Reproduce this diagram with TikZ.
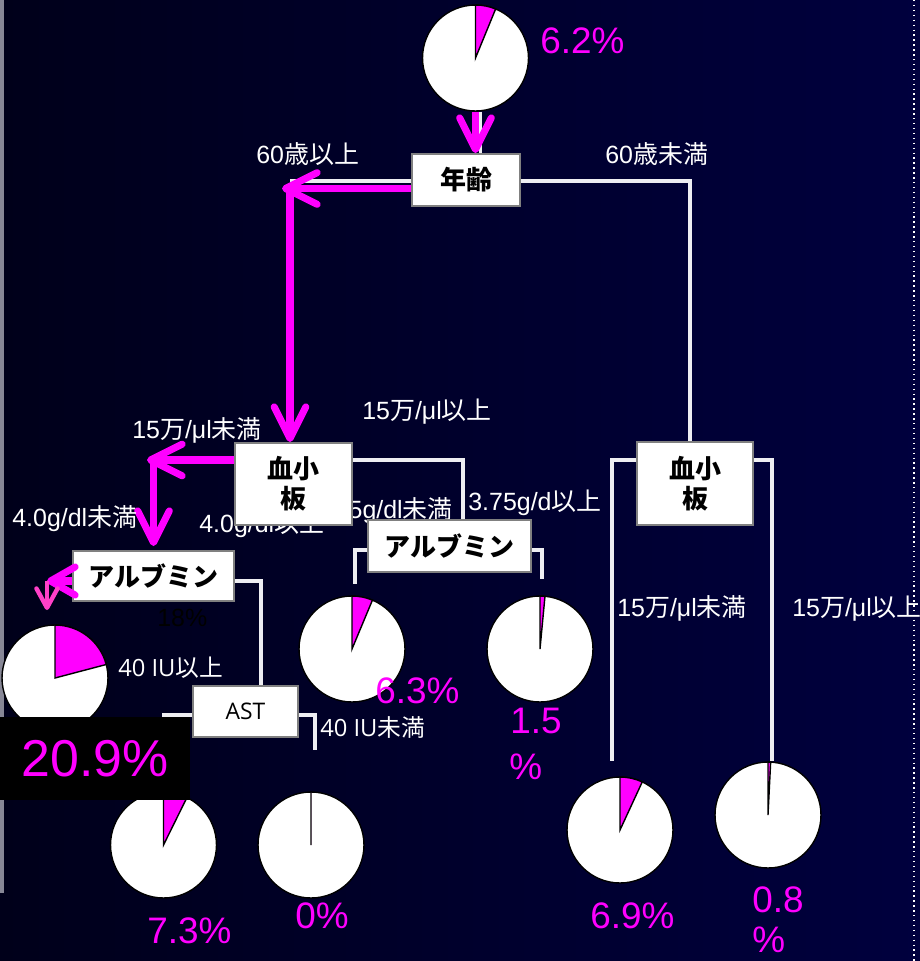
\documentclass[tikz,border=0pt]{standalone}
\usepackage{fontspec}
\setmainfont{Liberation Sans}
\newfontfamily\cjk{Noto Sans CJK JP}
\newfontfamily\seg{Open Sans}
\usetikzlibrary{arrows.meta}
\definecolor{mag}{RGB}{255,0,255}
\definecolor{pinkm}{RGB}{255,64,200}
\definecolor{wirecol}{RGB}{238,238,242}
\definecolor{boxline}{RGB}{128,128,128}
\definecolor{sidebar}{RGB}{135,135,150}
\definecolor{bgleft}{RGB}{0,0,26}
\definecolor{bgright}{RGB}{0,0,62}
\newcommand{\jp}[1]{{\cjk #1}}
\newcommand{\slice}[2]{\filldraw[fill=mag, draw=black, line width=0.8pt] (#1.center) -- ++(90:1.06cm) arc[start angle=90, end angle={90-3.6*#2}, radius=1.06cm] -- cycle;}

\begin{document}
\begin{tikzpicture}[
        x=0.02cm, y=0.02cm,
        box/.style={
            rectangle,
            draw=boxline,
            fill=white,
            line width=1.1pt,
            inner sep=0pt,
            align=center,
            font=\cjk\bfseries\fontsize{14.8}{17}\selectfont
        },
        pie/.style={circle, draw=black, fill=white, line width=0.8pt, minimum size=2.12cm, inner sep=0pt},
        lbl/.style={text=white, inner sep=0pt, anchor=base west, font=\fontsize{14.2}{16}\selectfont},
        iu/.style={lbl, font=\seg\fontsize{13.5}{16}\selectfont},
        pct/.style={text=mag, inner sep=0pt, anchor=base west, font=\fontsize{21}{24}\selectfont},
        wire/.style={draw=wirecol, line width=1.8pt},
        arrow/.style={-{Straight Barb[length=18pt, width=18pt, round]}, draw=mag, line width=4pt},
        smallarrow/.style={-{Straight Barb[length=14pt, width=16pt, round]}, draw=mag, line width=4pt},
        pinkarrow/.style={-{Straight Barb[length=11pt, width=12pt, round]}, draw=pinkm, line width=2.5pt}
    ]

    \useasboundingbox (0,0) rectangle (920,-961);
    \clip (0,0) rectangle (920,-961);
    \shade[left color=bgleft, right color=bgright] (0,0) rectangle (920,-961);
    \fill[sidebar] (0,0) rectangle (4,-893);
    \draw[white, dotted, line width=0.8pt] (914,0) -- (914,-961);

    \node[lbl] (l40up) at (199,-532) {4.0g/dl\jp{以上}};
    \node[lbl, anchor=base east] (l375lo) at (453,-518) {3.75g/dl\jp{未満}};

    \node[pie] (pTop) at (475.5,-58) {};
    \node[box, minimum width=2.16cm, minimum height=1.04cm] (age) at (466,-180) {年齢};
    \node[box, minimum width=2.34cm, minimum height=1.64cm] (plL) at (293.5,-484) {血小\\板};
    \node[box, minimum width=2.32cm, minimum height=1.66cm] (plR) at (695,-483.5) {血小\\板};
    \node[box, minimum width=3.22cm, minimum height=1cm] (albL) at (153.5,-576) {アルブミン};
    \node[box, minimum width=3.26cm, minimum height=1.04cm] (albM) at (449.5,-546) {アルブミン};
    \node[box, minimum width=2.1cm, minimum height=1.02cm, font=\seg\fontsize{13}{15}\selectfont] (ast) at (245.5,-711.5) {AST};

    \node[pie] (p209) at (55,-678) {};
    \node[pie] (p63) at (352,-649) {};
    \node[pie] (p15) at (540,-649) {};
    \node[pie] (p73) at (163.5,-845) {};
    \node[pie] (pZero) at (311,-845) {};
    \node[pie] (p69) at (620,-830) {};
    \node[pie] (p08) at (768,-815) {};
    \slice{pTop}{6.2}
    \slice{p209}{20.9}
    \slice{p63}{6.3}
    \slice{p15}{1.5}
    \slice{p73}{7.3}
    \slice{pZero}{0.01}
    \slice{p69}{6.9}
    \slice{p08}{0.8}

    \coordinate (k60) at (290,-181);
    \coordinate (t60) at (282,-188.5);
    \coordinate (t15) at (147,-460);
    \coordinate (t40) at (47,-581);

    \draw[wire] ([xshift=0.1cm]pTop.south) -- ([xshift=0.1cm]pTop.south |- age.north);
    \draw[wire] (age.west |- k60) -- (k60);
    \draw[wire] ([yshift=-0.02cm]age.east) -| ([xshift=-0.1cm]plR.north);
    \draw[wire] ([yshift=0.48cm]plL.east) -| ([xshift=0.27cm]albM.north);
    \draw[wire] ([yshift=-0.1cm]albL.east) -| ([xshift=0.31cm]ast.north);
    \draw[wire] ([yshift=-0.07cm]ast.east) -| ([xshift=0.08cm, yshift=0.82cm]pZero.north);
    \draw[wire] ([yshift=-0.07cm]ast.west) -| ([yshift=0.6cm]p73.north);
    \draw[wire] ([yshift=-0.08cm]albM.west) -| ([xshift=0.06cm, yshift=0.22cm]p63.north);
    \draw[wire] ([yshift=-0.08cm]albM.east) -| ([xshift=0.04cm, yshift=0.32cm]p15.north);
    \draw[wire] ([yshift=0.47cm]plR.west) -| ([xshift=-0.16cm, yshift=0.3cm]p69.north);
    \draw[wire] ([yshift=0.47cm]plR.east) -| ([xshift=0.08cm]p08.north);

    \draw[arrow] (pTop.south) -- (pTop.south |- age.north);
    \draw[arrow] (age.west |- t60) -- (t60);
    \draw[arrow] ([xshift=-0.07cm]plL.north |- t60) -- ([xshift=-0.07cm]plL.north);
    \draw[arrow] (plL.west |- t15) -- (t15);
    \draw[arrow] (albL.north |- t15) -- ([yshift=0.08cm]albL.north);
    \draw[smallarrow] (albL.west |- t40) -- (t40);
    \draw[pinkarrow] (t40) -- ++(0,-29);

    \node[pct] (v62) at (540,-53) {6.2\%};
    \node[pct] (v63) at (375,-703) {6.3\%};
    \node[pct] (v15a) at (510,-733) {1.5};
    \node[pct] (v15b) at (509,-779) {\%};
    \node[pct] (v73) at (147,-943) {7.3\%};
    \node[pct] (v0) at (295,-928) {0\%};
    \node[pct] (v69) at (590,-928) {6.9\%};
    \node[pct] (v08a) at (752,-912) {0.8};
    \node[pct] (v08b) at (752,-952) {\%};
    \node[lbl, text=black] (v18) at (157,-626) {18\%};
    \node[fill=black, text=mag, anchor=north west, minimum width=3.8cm, minimum height=1.66cm,
        inner sep=0pt, font=\fontsize{29.5}{32}\selectfont] (v209) at (0,-717) {20.9\%};

    \node[lbl] (l60up) at (256,-163) {60\jp{歳以上}};
    \node[lbl] (l60lo) at (605,-163) {60\jp{歳未満}};
    \node[lbl] (l15upA) at (362,-419) {15\jp{万}/μl\jp{以上}};
    \node[lbl] (l15loA) at (132,-438) {15\jp{万}/μl\jp{未満}};
    \node[lbl] (l40lo) at (12,-526) {4.0g/dl\jp{未満}};
    \node[lbl] (l375up) at (468,-510) {3.75g/d\jp{以上}};
    \node[lbl] (l15loB) at (617,-616) {15\jp{万}/μl\jp{未満}};
    \node[lbl] (l15upB) at (792,-616) {15\jp{万}/μl\jp{以上}};
    \node[iu] (iuUp) at (118,-676) {40 IU\jp{以上}};
    \node[iu] (iuLo) at (320,-736) {40 IU\jp{未満}};

    \end{tikzpicture}
\end{document}
